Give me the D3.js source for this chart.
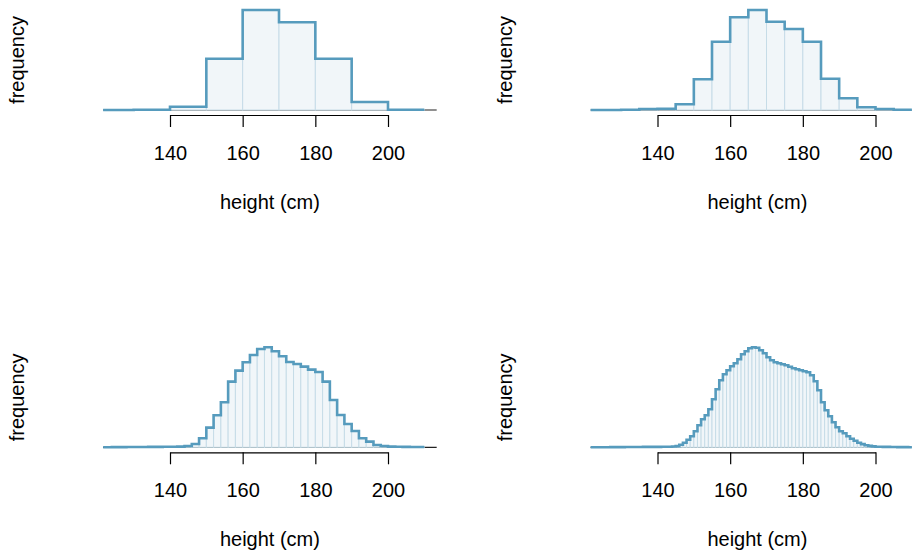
<!DOCTYPE html>
<html>
<head>
<meta charset="utf-8">
<script src="https://cdn.jsdelivr.net/npm/d3@7"></script>
<style>
  body { margin: 0; background: #fff; }
  svg text { font-family: "Liberation Sans", Arial, sans-serif; fill: #000; }
</style>
</head>
<body>
<div id="chart"></div>
<script>

// bins all start at 120 cm
const binStart = 120;
const xTicks = [140, 160, 180, 200];
const dataRange = [121.6, 210];   // where the outline is drawn
const plotRange = [121.6, 213.4]; // baseline / plot region

// bin width 10
const freq10 = [0, 0.3, 3.3, 51.3, 100, 87.7, 51.3, 8, 0.3];

// bin width 5
const freq5 = [0, 0, 0.3, 1, 1.3, 5.7, 30.7, 68.3, 92.7, 100, 88.3, 81, 68.3, 31.3, 11.7, 2.7, 1, 0.3];

// bin width 2
const freq2 = [
  0, 0, 0.2, 0.2, 0.3, 0.3, 0.3, 0.4, 0.4, 0.5,
  0.5, 0.7, 1.3, 3.3, 9, 19.7, 32, 45, 65.7, 76.7,
  85, 92.3, 98.3, 100, 96, 91, 85.3, 83.3, 80.7, 77.7,
  75.3, 65.7, 47.3, 32.3, 23.3, 16.3, 9, 5.7, 2.3, 1.3,
  0.7, 0.5, 0.4, 0.3, 0.3
];

// bin width 1
const freq1 = [
  0, 0, 0, 0, 0.1, 0.1, 0.1, 0.2, 0.2, 0.2, 0.2, 0.3, 0.3, 0.3, 0.3, 0.3, 0.4, 0.4, 0.4, 0.4,
  0.4, 0.5, 0.5, 0.6, 0.8, 1.2, 2.5, 4.5, 7.5, 11,
  16, 22, 28, 32, 38, 48, 58, 67, 73, 77,
  81, 84, 88, 93, 96, 99, 100, 99.5, 97, 94,
  90, 87, 85, 84, 83, 82, 80.5, 79, 78, 77,
  76, 75, 72, 66, 57, 45, 37, 31, 25, 20,
  16, 14, 11, 8.5, 6.5, 4.5, 3.2, 2, 1.4, 0.9,
  0.6, 0.5, 0.4, 0.4, 0.3, 0.3, 0.2, 0.2, 0.2, 0.1
];

const panels = [
  { values: freq10, width: 10, col: 0, row: 0 },
  { values: freq5,  width: 5,  col: 1, row: 0 },
  { values: freq2,  width: 2,  col: 0, row: 1 },
  { values: freq1,  width: 1,  col: 1, row: 1 }
];

const W = 912, H = 554;
const colOffset = [0, 487.5];
const rowOffset = [0, 337.3];

const lineColor = "#569bbd";
const fillColor = "#f1f6f9";
const borderColor = "#c6dce7";

const svg = d3.select("#chart").append("svg")
  .attr("width", W)
  .attr("height", H);

function drawPanel(p){

  const g = svg.append("g")
    .attr("transform", "translate(" + colOffset[p.col] + "," + rowOffset[p.row] + ")");

  const x = d3.scaleLinear().domain([140, 200]).range([170, 388]);
  const y = d3.scaleLinear().domain([0, d3.max(p.values)]).range([110, 10]);

  const bins = p.values.map((v, i) => ({
    x0: binStart + i * p.width,
    x1: binStart + (i + 1) * p.width,
    v: v
  }));

  // baseline across plot region
  g.append("line")
    .attr("x1", x(plotRange[0]))
    .attr("x2", x(plotRange[1]))
    .attr("y1", y(0))
    .attr("y2", y(0))
    .attr("stroke", "#222")
    .attr("stroke-width", 1.2);

  // bars
  g.selectAll("rect.bar")
    .data(bins.filter(b => b.x0 >= dataRange[0] && b.x1 <= dataRange[1]))
    .join("rect")
    .attr("class", "bar")
    .attr("x", b => x(b.x0))
    .attr("width", b => x(b.x1) - x(b.x0))
    .attr("y", b => y(b.v))
    .attr("height", b => y(0) - y(b.v))
    .attr("fill", fillColor)
    .attr("stroke", borderColor)
    .attr("stroke-width", 1);

  // outline of the histogram
  const pts = [];
  bins.forEach(b => {
    const a = Math.max(b.x0, dataRange[0]);
    const c = Math.min(b.x1, dataRange[1]);
    if(c <= a) return;
    pts.push([a, b.v]);
    pts.push([c, b.v]);
  });

  const line = d3.line()
    .x(d => x(d[0]))
    .y(d => y(d[1]));

  g.append("path")
    .datum(pts)
    .attr("d", line)
    .attr("fill", "none")
    .attr("stroke", lineColor)
    .attr("stroke-width", 2.6)
    .attr("stroke-linejoin", "miter");

  // x axis
  const axis = g.append("g")
    .attr("transform", "translate(0,115)")
    .call(d3.axisBottom(x)
      .tickValues(xTicks)
      .tickSize(12)
      .tickSizeOuter(0)
      .tickPadding(19)
      .tickFormat(d3.format("d")));

  axis.select(".domain").attr("stroke", "#000").attr("stroke-width", 1.2);
  axis.selectAll(".tick line").attr("stroke", "#000").attr("stroke-width", 1.2);
  axis.selectAll(".tick text")
    .style("font-family", "'Liberation Sans', Arial, sans-serif")
    .style("font-size", "20px")
    .attr("fill", "#000");

  // axis titles
  g.append("text")
    .attr("x", (x(plotRange[0]) + x(plotRange[1])) / 2)
    .attr("y", 209)
    .attr("text-anchor", "middle")
    .style("font-size", "20px")
    .text("height (cm)");

  g.append("text")
    .attr("transform", "translate(24,60) rotate(-90)")
    .attr("text-anchor", "middle")
    .style("font-size", "20px")
    .text("frequency");
}

panels.forEach(drawPanel);

</script>
</body>
</html>
